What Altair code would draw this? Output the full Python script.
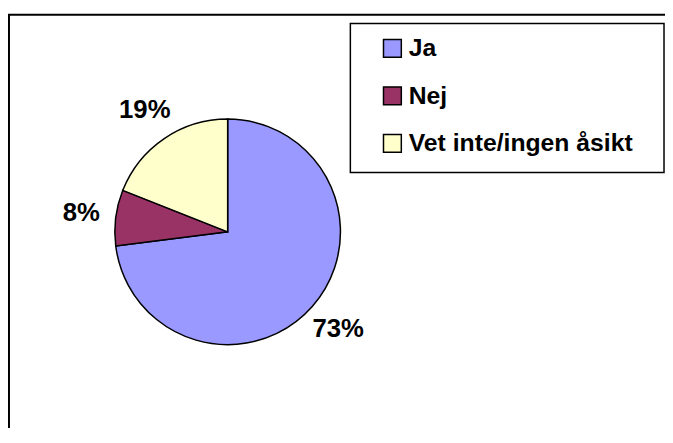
import altair as alt
import pandas as pd

categories = ["Ja", "Nej", "Vet inte/ingen åsikt"]
values = [73, 8, 19]
labels = ["73%", "8%", "19%"]
colors = ["#9999FF", "#993366", "#FFFFCC"]
order = [0, 1, 2]

FONT = "Liberation Sans"
W, H = 664, 420
CX, CY, R = 222, 224, 114

df = pd.DataFrame({"category": categories, "value": values, "label": labels, "order": order})
one = pd.DataFrame({"k": [0]})

color = alt.Color(
    "category:N",
    scale=alt.Scale(domain=categories, range=colors),
    sort=categories,
    legend=alt.Legend(
        orient="none",
        legendX=376,
        legendY=26,
        title=None,
        symbolType="square",
        symbolSize=324,
        symbolStrokeColor="black",
        symbolStrokeWidth=1.5,
        symbolOpacity=1,
        labelFont=FONT,
        labelFontSize=25,
        labelFontWeight="bold",
        labelColor="black",
        labelOffset=4,
        labelLimit=500,
        rowPadding=22,
        padding=0,
    ),
)

base = alt.Chart(df).encode(
    theta=alt.Theta("value:Q", stack=True),
    order=alt.Order("order:Q"),
)

pie = base.mark_arc(radius=R, stroke="black", strokeWidth=1.5).encode(
    color=color, x=alt.value(CX), y=alt.value(CY)
)

text = base.mark_text(
    radius=149, font=FONT, fontSize=26, fontWeight="bold", color="black"
).encode(text="label:N", x=alt.value(CX), y=alt.value(CY))

outer = alt.Chart(one).mark_rect(fill="transparent", stroke="black", strokeWidth=2).encode(
    x=alt.value(1), x2=alt.value(760), y=alt.value(4.5), y2=alt.value(760)
)

box = alt.Chart(one).mark_rect(fill="white", stroke="black", strokeWidth=1.5).encode(
    x=alt.value(346), x2=alt.value(663), y=alt.value(13.5), y2=alt.value(164)
)

chart = (
    alt.layer(outer, box, pie, text)
    .properties(
        width=W,
        height=H,
        autosize=alt.AutoSizeParams(type="none"),
        padding=0,
        background="white",
    )
    .configure_view(stroke=None)
)

chart.save("out.html", embed_options={"renderer": "svg", "actions": False})
